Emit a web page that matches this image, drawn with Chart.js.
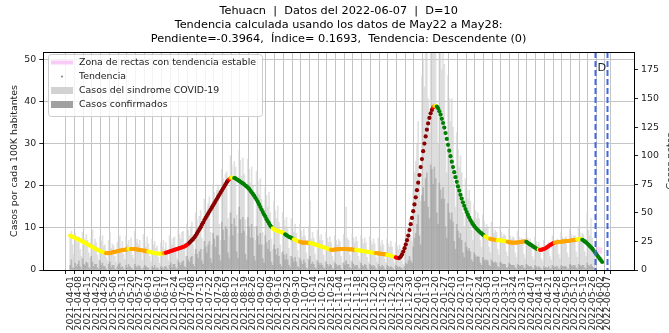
<!DOCTYPE html>
<html>
<head>
<meta charset="utf-8">
<script src="https://cdn.jsdelivr.net/npm/chart.js@4.4.1/dist/chart.umd.min.js"></script>
<style>
  html, body { margin: 0; padding: 0; background: #fff; }
  canvas { display: block; }
</style>
</head>
<body>
<canvas id="chart" width="669" height="333"></canvas>
<script>
// Day 0 of every series is 2021-04-01
const firstDay = '2021-04-01'

const titleLines = [
  'Tehuacn  |  Datos del 2022-06-07  |  D=10',
  'Tendencia calculada usando los datos de May22 a May28:',
  'Pendiente=-0.3964,  Índice= 0.1693,  Tendencia: Descendente (0)'
]

const tickLabels = [
  '2021-04-01', '2021-04-08', '2021-04-15', '2021-04-22', '2021-04-29',
  '2021-05-06', '2021-05-13', '2021-05-20', '2021-05-27',
  '2021-06-03', '2021-06-10', '2021-06-17', '2021-06-24',
  '2021-07-01', '2021-07-08', '2021-07-15', '2021-07-22', '2021-07-29',
  '2021-08-05', '2021-08-12', '2021-08-19', '2021-08-26',
  '2021-09-02', '2021-09-09', '2021-09-16', '2021-09-23', '2021-09-30',
  '2021-10-07', '2021-10-14', '2021-10-21', '2021-10-28',
  '2021-11-04', '2021-11-11', '2021-11-18', '2021-11-25',
  '2021-12-02', '2021-12-09', '2021-12-16', '2021-12-23', '2021-12-30',
  '2022-01-06', '2022-01-13', '2022-01-20', '2022-01-27',
  '2022-02-03', '2022-02-10', '2022-02-17', '2022-02-24',
  '2022-03-03', '2022-03-10', '2022-03-17', '2022-03-24', '2022-03-31',
  '2022-04-07', '2022-04-14', '2022-04-21', '2022-04-28',
  '2022-05-05', '2022-05-12', '2022-05-19', '2022-05-26',
  '2022-06-02', '2022-06-07'
]
const leftTicks = [0, 10, 20, 30, 40, 50]
const rightTicks = [0, 25, 50, 75, 100, 125, 150, 175]

// window used for the slope and the report date
const cutoffDates = ['2022-05-28', '2022-06-07']

// daily cases (right axis), one row per week
const sindromeCases = [
  30, 34, 22, 14, 32, 27, 24,
  29, 18, 12, 33, 28, 25, 31,
  26, 15, 10, 28, 35, 22, 27,
  24, 13, 9, 29, 25, 30, 21,
  22, 11, 8, 26, 33, 19, 23,
  21, 12, 7, 24, 27, 30, 18,
  25, 14, 9, 30, 22, 26, 20,
  28, 13, 10, 34, 24, 27, 22,
  26, 15, 8, 31, 25, 20, 29,
  23, 12, 7, 27, 22, 25, 19,
  21, 11, 6, 24, 20, 26, 18,
  24, 13, 8, 30, 27, 22, 28,
  29, 16, 10, 36, 31, 27, 33,
  34, 18, 12, 40, 35, 30, 38,
  42, 22, 14, 50, 44, 38, 47,
  52, 28, 18, 62, 55, 48, 58,
  64, 33, 22, 75, 68, 58, 70,
  74, 40, 26, 88, 80, 70, 84,
  86, 45, 30, 100, 92, 78, 95,
  90, 48, 32, 105, 96, 82, 98,
  84, 44, 30, 97, 88, 76, 90,
  74, 38, 26, 86, 78, 66, 80,
  62, 33, 22, 72, 65, 55, 68,
  50, 27, 18, 60, 52, 45, 56,
  42, 22, 15, 50, 44, 38, 46,
  36, 19, 12, 45, 38, 33, 40,
  32, 17, 11, 40, 34, 29, 36,
  30, 15, 10, 38, 60, 27, 33,
  28, 14, 9, 35, 30, 26, 31,
  26, 13, 8, 33, 28, 24, 29,
  24, 12, 8, 30, 26, 22, 27,
  25, 12, 7, 31, 27, 55, 28,
  26, 13, 8, 32, 28, 24, 29,
  25, 12, 8, 30, 27, 23, 28,
  24, 11, 7, 29, 25, 22, 27,
  23, 11, 7, 28, 24, 21, 26,
  22, 10, 6, 27, 23, 20, 25,
  20, 9, 6, 24, 21, 18, 22,
  18, 8, 5, 22, 30, 28, 35,
  45, 30, 25, 70, 85, 95, 110,
  130, 80, 60, 170, 185, 160, 200,
  210, 150, 120, 230, 220, 200, 240,
  220, 140, 110, 210, 195, 175, 200,
  180, 110, 85, 170, 150, 130, 150,
  125, 75, 55, 120, 105, 90, 100,
  85, 50, 38, 80, 70, 62, 70,
  60, 35, 26, 58, 52, 45, 50,
  45, 26, 20, 48, 42, 37, 40,
  38, 20, 15, 42, 36, 32, 35,
  33, 18, 13, 38, 33, 29, 31,
  30, 16, 12, 36, 30, 27, 29,
  28, 15, 11, 34, 29, 25, 28,
  27, 14, 10, 33, 28, 24, 27,
  24, 12, 9, 29, 25, 22, 24,
  20, 10, 8, 26, 22, 19, 22,
  24, 12, 9, 30, 26, 22, 25,
  27, 14, 10, 33, 29, 25, 28,
  29, 15, 11, 36, 31, 27, 30,
  30, 16, 11, 38, 33, 28, 32,
  31, 16, 12, 50, 35, 30, 45,
  28, 18, 12
]

const confirmedCases = [
  4, 9, 2, 1, 6, 3, 5,
  8, 3, 1, 10, 5, 4, 7,
  6, 2, 1, 12, 7, 3, 5,
  5, 2, 1, 8, 4, 6, 3,
  3, 1, 0, 5, 7, 2, 4,
  4, 1, 0, 3, 5, 6, 2,
  3, 1, 0, 4, 2, 5, 3,
  2, 1, 0, 5, 3, 2, 4,
  3, 1, 0, 2, 4, 3, 2,
  2, 0, 0, 3, 2, 4, 1,
  2, 1, 0, 3, 2, 1, 3,
  3, 1, 0, 4, 6, 2, 5,
  5, 2, 1, 8, 6, 4, 7,
  8, 3, 2, 12, 9, 7, 11,
  12, 5, 3, 18, 14, 10, 16,
  18, 8, 5, 25, 20, 15, 22,
  25, 10, 6, 32, 27, 20, 30,
  30, 13, 8, 42, 35, 26, 38,
  36, 15, 10, 50, 40, 30, 45,
  38, 16, 10, 55, 44, 32, 46,
  34, 14, 9, 46, 38, 28, 40,
  28, 12, 8, 38, 30, 22, 32,
  22, 10, 6, 30, 24, 18, 26,
  16, 7, 4, 22, 18, 13, 19,
  12, 5, 3, 16, 13, 9, 14,
  9, 4, 2, 12, 10, 7, 11,
  7, 3, 2, 10, 8, 5, 9,
  6, 2, 1, 9, 12, 5, 7,
  5, 2, 1, 8, 6, 4, 6,
  4, 2, 1, 7, 5, 3, 5,
  4, 1, 1, 6, 5, 3, 4,
  4, 1, 0, 6, 4, 8, 5,
  5, 2, 1, 7, 5, 3, 4,
  4, 1, 1, 6, 4, 3, 5,
  4, 1, 0, 5, 4, 3, 4,
  3, 1, 0, 5, 3, 2, 4,
  3, 1, 0, 4, 3, 2, 3,
  2, 1, 0, 4, 3, 2, 3,
  2, 1, 0, 3, 6, 5, 8,
  12, 8, 6, 20, 28, 32, 40,
  48, 30, 22, 65, 72, 60, 80,
  85, 55, 45, 92, 88, 75, 90,
  80, 50, 40, 76, 70, 62, 72,
  62, 38, 28, 58, 50, 44, 50,
  42, 25, 18, 40, 34, 28, 32,
  26, 15, 11, 24, 20, 17, 19,
  16, 9, 7, 15, 13, 11, 12,
  11, 6, 4, 11, 9, 8, 9,
  8, 4, 3, 9, 7, 6, 7,
  6, 3, 2, 7, 6, 5, 5,
  5, 2, 2, 6, 5, 4, 4,
  4, 2, 1, 5, 4, 3, 4,
  4, 2, 1, 5, 4, 3, 3,
  3, 1, 1, 4, 3, 2, 3,
  2, 1, 0, 3, 2, 2, 2,
  3, 1, 1, 4, 3, 2, 3,
  3, 1, 1, 4, 3, 3, 3,
  3, 1, 1, 5, 4, 3, 4,
  4, 2, 1, 5, 4, 3, 4,
  4, 2, 1, 6, 4, 3, 5,
  3, 2, 1
]

// smoothed cases per 100K (left axis), one row per week
const trendValues = [
  8.2, 8.0, 7.9, 7.8, 7.6, 7.5, 7.4,
  7.2, 7.1, 6.9, 6.8, 6.6, 6.5, 6.3,
  6.1, 6.0, 5.8, 5.6, 5.5, 5.3, 5.1,
  5.0, 4.8, 4.7, 4.5, 4.4, 4.3, 4.2,
  4.1, 4.0, 4.0, 4.0, 4.1, 4.1, 4.2,
  4.3, 4.3, 4.4, 4.5, 4.5, 4.6, 4.7,
  4.7, 4.8, 4.8, 4.9, 4.9, 5.0, 5.0,
  5.0, 5.0, 5.0, 5.0, 4.9, 4.9, 4.8,
  4.8, 4.7, 4.7, 4.6, 4.6, 4.5, 4.4,
  4.4, 4.3, 4.2, 4.2, 4.1, 4.0, 4.0,
  3.9, 3.9, 3.9, 3.9, 3.9, 4.0, 4.0,
  4.1, 4.2, 4.3, 4.4, 4.5, 4.6, 4.7,
  4.8, 4.9, 5.0, 5.1, 5.2, 5.3, 5.4,
  5.5, 5.6, 5.8, 6.0, 6.2, 6.5, 6.8,
  7.1, 7.4, 7.8, 8.2, 8.7, 9.2, 9.7,
  10.2, 10.8, 11.3, 11.9, 12.4, 12.9, 13.4,
  13.9, 14.4, 14.9, 15.4, 15.9, 16.4, 16.9,
  17.4, 17.9, 18.4, 18.9, 19.4, 19.9, 20.4,
  20.9, 21.3, 21.6, 21.9, 22.0, 22.0, 21.9,
  21.8, 21.6, 21.4, 21.2, 21.0, 20.8, 20.6,
  20.4, 20.1, 19.9, 19.6, 19.3, 18.9, 18.5,
  18.1, 17.7, 17.2, 16.7, 16.2, 15.6, 15.0,
  14.4, 13.8, 13.2, 12.7, 12.1, 11.6, 11.1,
  10.6, 10.2, 9.9, 9.7, 9.5, 9.4, 9.3,
  9.2, 9.1, 9.0, 8.9, 8.7, 8.5, 8.3,
  8.1, 7.9, 7.8, 7.6, 7.5, 7.3, 7.2,
  7.0, 6.9, 6.8, 6.7, 6.6, 6.5, 6.5,
  6.5, 6.5, 6.5, 6.4, 6.4, 6.4, 6.3,
  6.2, 6.1, 6.0, 5.9, 5.8, 5.7, 5.6,
  5.5, 5.4, 5.3, 5.2, 5.1, 5.0, 4.9,
  4.8, 4.8, 4.8, 4.9, 4.9, 4.9, 5.0,
  5.0, 5.0, 5.0, 5.0, 5.0, 5.0, 5.0,
  4.9, 4.9, 4.9, 4.9, 4.8, 4.8, 4.8,
  4.7, 4.7, 4.6, 4.6, 4.5, 4.5, 4.4,
  4.4, 4.3, 4.3, 4.2, 4.2, 4.1, 4.1,
  4.0, 4.0, 4.0, 3.9, 3.9, 3.9, 3.8,
  3.8, 3.7, 3.7, 3.6, 3.6, 3.5, 3.4,
  3.3, 3.2, 3.1, 3.0, 2.9, 2.85, 2.9,
  3.2, 3.7, 4.4, 5.2, 6.1, 7.1, 8.2,
  9.5, 10.9, 12.4, 14.0, 15.6, 17.3, 19.0,
  20.8, 22.6, 24.5, 26.4, 28.3, 30.1, 31.8,
  33.4, 34.9, 36.2, 37.3, 38.1, 38.7, 39.0,
  39.1, 38.9, 38.5, 37.8, 37.0, 36.0, 35.0,
  33.9, 32.6, 31.2, 29.8, 28.4, 27.1, 25.8,
  24.5, 23.3, 22.1, 21.0, 19.9, 18.9, 17.9,
  17.0, 16.1, 15.3, 14.5, 13.8, 13.1, 12.5,
  11.9, 11.4, 10.9, 10.5, 10.1, 9.8, 9.5,
  9.2, 8.9, 8.7, 8.4, 8.2, 8.0, 7.8,
  7.6, 7.5, 7.4, 7.3, 7.3, 7.2, 7.2,
  7.1, 7.1, 7.1, 7.0, 7.0, 7.0, 6.9,
  6.9, 6.8, 6.7, 6.6, 6.6, 6.5, 6.5,
  6.5, 6.5, 6.5, 6.6, 6.6, 6.7, 6.7,
  6.7, 6.8, 6.8, 6.7, 6.5, 6.3, 6.1,
  5.9, 5.7, 5.5, 5.3, 5.1, 5.0, 4.9,
  4.8, 4.8, 4.9, 5.0, 5.1, 5.3, 5.5,
  5.7, 5.9, 6.1, 6.3, 6.4, 6.5, 6.6,
  6.6, 6.7, 6.7, 6.7, 6.8, 6.8, 6.8,
  6.9, 6.9, 6.9, 7.0, 7.0, 7.1, 7.1,
  7.2, 7.2, 7.3, 7.3, 7.4, 7.4, 7.2,
  7.0, 6.8, 6.6, 6.3, 6.0, 5.7, 5.4,
  5.1, 4.7, 4.3, 3.9, 3.5, 3.1, 2.7,
  2.3, 1.9
]

// trend class of each run of days: [class, number of days]
const trendRuns = [
  ['y', 29], ['o', 18], ['y', 2], ['o', 14], ['y', 12], ['o', 2], ['r', 19],
  ['d', 32], ['r', 1], ['o', 1], ['y', 2], ['g', 31], ['y', 10], ['g', 7],
  ['y', 5], ['o', 8], ['y', 17], ['o', 20], ['y', 16], ['o', 9], ['y', 7],
  ['r', 3], ['d', 27], ['r', 1], ['o', 1], ['y', 1], ['g', 39], ['y', 4],
  ['o', 6], ['y', 8], ['o', 15], ['g', 10], ['y', 1], ['r', 12], ['o', 18],
  ['y', 4], ['g', 17]
]

// stable-slope band drawn after the cutoff
const stableDates = ['2022-05-29', '2022-06-03']
const stableValues = [4.8, 4.6]

const trendColors = { y: '#ffff00', o: '#ffa500', r: '#ff0000', d: '#8b0000', g: '#008000' }

const dayOf = s => (Date.parse(s) - Date.parse(firstDay)) / 864e5
const tickDays = tickLabels.map(dayOf)
const labelByDay = {}
tickLabels.forEach((s, i) => { labelByDay[tickDays[i]] = s })

const pointColors = []
trendRuns.forEach(([c, n]) => { for (let k = 0; k < n; k++) pointColors.push(trendColors[c]) })

const span = tickDays[tickDays.length - 1]
const xMin = -0.05 * span
const xMax = span * 1.05

const font = { family: 'DejaVu Sans', size: 9.4 }
const fontCss = '9.4px "DejaVu Sans"'
const titleCss = '11.3px "DejaVu Sans"'

const overlay = {
  id: 'overlay',
  afterDatasetsDraw(chart) {
    const { ctx, chartArea: a, scales: { x } } = chart
    ctx.save()
    ctx.strokeStyle = '#4169e1'
    ctx.lineWidth = 2
    ctx.setLineDash([6, 3])
    cutoffDates.forEach(s => {
      const px = Math.round(x.getPixelForValue(dayOf(s))) + 0.5
      ctx.beginPath()
      ctx.moveTo(px, a.top)
      ctx.lineTo(px, a.bottom)
      ctx.stroke()
    })
    ctx.setLineDash([])
    ctx.fillStyle = '#222'
    ctx.font = titleCss
    ctx.textAlign = 'right'
    ctx.textBaseline = 'middle'
    ctx.fillText('D', x.getPixelForValue(dayOf(cutoffDates[1])) - 1, 68)
    ctx.restore()
  },
  afterDraw(chart) {
    const { ctx, chartArea: a } = chart
    ctx.save()
    // frame
    ctx.strokeStyle = '#000'
    ctx.lineWidth = 1
    ctx.strokeRect(Math.round(a.left) + 0.5, Math.round(a.top) + 0.5,
      Math.round(a.right - a.left), Math.round(a.bottom - a.top))

    // title
    ctx.fillStyle = '#000'
    ctx.font = titleCss
    ctx.textAlign = 'center'
    ctx.textBaseline = 'middle'
    const cx = (a.left + a.right) / 2
    titleLines.forEach((t, i) => ctx.fillText(t, cx, 11 + i * 14))

    // right axis title
    ctx.save()
    ctx.translate(671, (a.top + a.bottom) / 2)
    ctx.rotate(-Math.PI / 2)
    ctx.font = fontCss
    ctx.fillStyle = '#222'
    ctx.fillText('Casos netos', 0, 0)
    ctx.restore()

    // legend
    const lx = 48, ly = 54, lw = 214, lh = 62
    ctx.fillStyle = 'rgba(255,255,255,0.8)'
    ctx.strokeStyle = '#cccccc'
    ctx.beginPath()
    ctx.roundRect(lx + 0.5, ly + 0.5, lw, lh, 3)
    ctx.fill()
    ctx.stroke()

    const rows = [62.5, 76.5, 90.5, 104.5]
    ctx.strokeStyle = '#f7cdf7'
    ctx.lineWidth = 4
    ctx.beginPath()
    ctx.moveTo(51, rows[0])
    ctx.lineTo(73, rows[0])
    ctx.stroke()

    ctx.fillStyle = '#8a7a7a'
    ctx.beginPath()
    ctx.arc(62, rows[1], 1, 0, Math.PI * 2)
    ctx.fill()

    ctx.fillStyle = '#d2d2d2'
    ctx.fillRect(51, rows[2] - 3.5, 22, 7)
    ctx.fillStyle = '#a0a0a0'
    ctx.fillRect(51, rows[3] - 3.5, 22, 7)

    ctx.fillStyle = '#222'
    ctx.font = fontCss
    ctx.textAlign = 'left'
    ;['Zona de rectas con tendencia estable', 'Tendencia',
      'Casos del sindrome COVID-19', 'Casos confirmados']
      .forEach((t, i) => ctx.fillText(t, 79, rows[i]))
    ctx.restore()
  }
}

new Chart(document.getElementById('chart'), {
  type: 'bar',
  data: {
    datasets: [
      {
        type: 'line',
        label: 'Tendencia',
        data: trendValues.map((v, i) => ({ x: i, y: v })),
        yAxisID: 'y',
        showLine: false,
        pointRadius: 2.1,
        pointBorderWidth: 0,
        pointBackgroundColor: pointColors,
        order: 0
      },
      {
        type: 'line',
        label: 'Zona de rectas con tendencia estable',
        data: stableDates.map((s, i) => ({ x: dayOf(s), y: stableValues[i] })),
        yAxisID: 'y',
        borderColor: 'rgba(238,130,238,0.35)',
        borderWidth: 6,
        pointRadius: 0,
        order: 1
      },
      {
        label: 'Casos confirmados',
        data: confirmedCases.map((v, i) => ({ x: i, y: v })),
        yAxisID: 'y1',
        backgroundColor: 'rgba(150,150,150,0.55)',
        barThickness: 1,
        grouped: false,
        order: 2
      },
      {
        label: 'Casos del sindrome COVID-19',
        data: sindromeCases.map((v, i) => ({ x: i, y: v })),
        yAxisID: 'y1',
        backgroundColor: 'rgba(205,205,205,0.6)',
        barThickness: 1,
        grouped: false,
        order: 3
      }
    ]
  },
  options: {
    responsive: false,
    animation: false,
    devicePixelRatio: 1,
    layout: { padding: { top: 52, left: 0, right: 0, bottom: 0 } },
    plugins: { legend: { display: false }, tooltip: { enabled: false } },
    scales: {
      x: {
        type: 'linear',
        min: xMin,
        max: xMax,
        offset: false,
        afterBuildTicks: s => { s.ticks = tickDays.map(v => ({ value: v })) },
        afterFit: s => { s.height = 63 },
        ticks: {
          autoSkip: false,
          maxRotation: 90,
          minRotation: 90,
          padding: 2,
          font,
          color: '#222',
          callback: v => labelByDay[v] || ''
        },
        grid: { color: '#c4c4c4', lineWidth: 1, tickLength: 4, tickColor: '#222' },
        border: { color: '#000' }
      },
      y: {
        position: 'left',
        min: 0,
        max: 51.9,
        afterBuildTicks: s => { s.ticks = leftTicks.map(v => ({ value: v })) },
        afterFit: s => { s.width = 43.3 },
        ticks: { font, color: '#222', padding: 3 },
        grid: { color: '#c4c4c4', lineWidth: 1, tickLength: 4, tickColor: '#222' },
        border: { color: '#000' },
        title: {
          display: true,
          text: 'Casos por cada 100K habitantes',
          font,
          color: '#222',
          padding: { top: 9, bottom: 0 }
        }
      },
      y1: {
        position: 'right',
        min: 0,
        max: 190.7,
        afterBuildTicks: s => { s.ticks = rightTicks.map(v => ({ value: v })) },
        afterFit: s => { s.width = 35 },
        ticks: { font, color: '#222', padding: 3 },
        grid: { drawOnChartArea: false, tickLength: 4, tickColor: '#222' },
        border: { color: '#000' }
      }
    }
  },
  plugins: [overlay]
})
</script>
</body>
</html>
